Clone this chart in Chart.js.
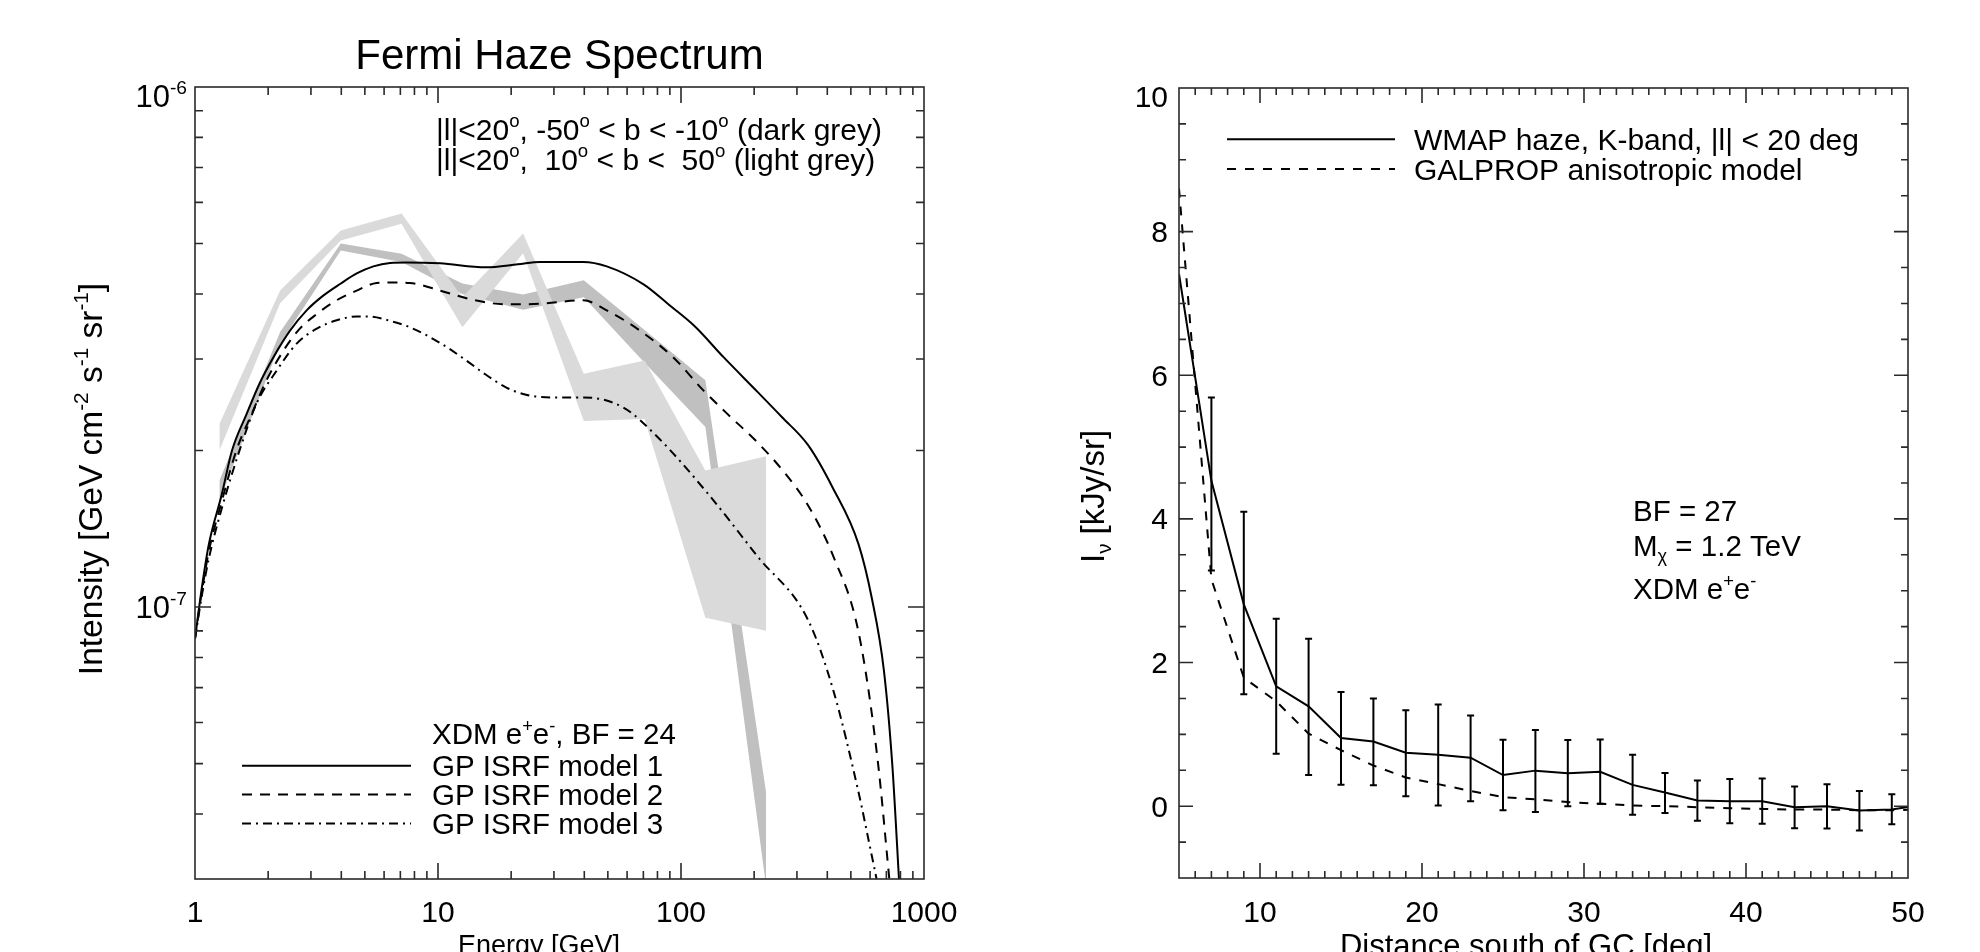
<!DOCTYPE html>
<html>
<head>
<meta charset="utf-8">
<title>Fermi haze spectrum / WMAP haze profile</title>
<script src="https://cdn.jsdelivr.net/npm/chart.js@4.4.1/dist/chart.umd.min.js"></script>
<style>
  html, body { margin: 0; padding: 0; background: #fff; }
  #wrap { position: relative; width: 1980px; height: 952px; overflow: hidden; }
  canvas { position: absolute; top: 0; }
  #left { left: 0; }
  #right { left: 990px; }
</style>
</head>
<body>
<div id="wrap">
  <canvas id="left" width="990" height="952"></canvas>
  <canvas id="right" width="990" height="952"></canvas>
</div>
<script>
const FONT = '"Liberation Sans", Arial, Helvetica, sans-serif';
const LIGHT = 'rgb(218,218,218)';
const DARK = 'rgb(192,192,192)';

// ---- left panel: Fermi haze spectrum (GeV, GeV cm^-2 s^-1 sr^-1) ----
const energyBins = [1.26, 2.24, 3.98, 7.08, 12.6, 22.4, 39.8, 70.8, 126, 224];
const southHigh = [1.75e-7, 3.38e-7, 5.0e-7, 4.78e-7, 4.19e-7, 3.99e-7, 4.25e-7, 3.41e-7, 2.73e-7, 4.4e-8];
const southLow = [1.6e-7, 3.21e-7, 4.85e-7, 4.61e-7, 4.0e-7, 3.73e-7, 3.94e-7, 2.95e-7, 2.22e-7, 2.9e-8];
const northHigh = [2.25e-7, 4.06e-7, 5.3e-7, 5.71e-7, 3.94e-7, 5.23e-7, 2.81e-7, 2.98e-7, 1.83e-7, 1.95e-7];
const northLow = [2.0e-7, 3.84e-7, 5.07e-7, 5.46e-7, 3.45e-7, 4.79e-7, 2.28e-7, 2.3e-7, 9.54e-8, 9.0e-8];

const model1E = [1.0, 1.07, 1.14, 1.29, 1.42, 1.63, 1.85, 2.10, 2.46, 2.88, 3.37, 3.95, 4.63, 5.42, 6.35, 7.43, 10.2, 15.7, 21.3, 26.3, 39.6, 49.5, 70.4, 90, 113.6, 150, 207, 260, 333, 420, 538, 610, 684, 740, 789];
const model1I = [8.7e-8, 1.1e-7, 1.32e-7, 1.65e-7, 2.0e-7, 2.35e-7, 2.70e-7, 3.02e-7, 3.40e-7, 3.72e-7, 3.97e-7, 4.18e-7, 4.38e-7, 4.52e-7, 4.59e-7, 4.60e-7, 4.58e-7, 4.5e-7, 4.56e-7, 4.61e-7, 4.61e-7, 4.52e-7, 4.17e-7, 3.8e-7, 3.47e-7, 3.02e-7, 2.59e-7, 2.32e-7, 2.05e-7, 1.7e-7, 1.32e-7, 1.04e-7, 7.55e-8, 5.0e-8, 3.0e-8];
const model2E = [1.0, 1.07, 1.14, 1.29, 1.48, 1.71, 1.97, 2.31, 2.70, 3.17, 3.83, 4.63, 5.59, 6.35, 7.67, 10.2, 14.2, 19.2, 26.3, 39.6, 49.5, 67.8, 93, 123.6, 154, 207, 265, 333, 424, 538, 644, 720];
const model2I = [8.7e-8, 1.08e-7, 1.28e-7, 1.6e-7, 2.0e-7, 2.35e-7, 2.73e-7, 3.11e-7, 3.43e-7, 3.66e-7, 3.89e-7, 4.06e-7, 4.2e-7, 4.21e-7, 4.2e-7, 4.06e-7, 3.89e-7, 3.82e-7, 3.83e-7, 3.89e-7, 3.72e-7, 3.40e-7, 3.02e-7, 2.61e-7, 2.36e-7, 2.07e-7, 1.82e-7, 1.57e-7, 1.25e-7, 8.94e-8, 5.1e-8, 3.0e-8];
const model3E = [1.0, 1.07, 1.14, 1.29, 1.53, 1.79, 2.17, 2.62, 3.17, 3.83, 4.63, 5.25, 6.35, 7.67, 10.2, 12.8, 15.7, 19.2, 23, 30, 39.6, 57.9, 79.5, 128, 207, 333, 424, 538, 600, 638];
const model3I = [8.7e-8, 1.06e-7, 1.24e-7, 1.55e-7, 2.01e-7, 2.46e-7, 2.85e-7, 3.21e-7, 3.43e-7, 3.56e-7, 3.62e-7, 3.62e-7, 3.55e-7, 3.45e-7, 3.22e-7, 3.0e-7, 2.8e-7, 2.64e-7, 2.56e-7, 2.53e-7, 2.53e-7, 2.42e-7, 2.13e-7, 1.66e-7, 1.25e-7, 9.45e-8, 6.9e-8, 4.4e-8, 3.45e-8, 3.0e-8];

const energyLabels = [1, 10, 100, 1000];
const intensityLabels = [1e-7, 1e-6];

// ---- right panel: WMAP haze vs distance south of GC (kJy/sr) ----
const distLine = [5, 7, 9, 11, 13, 15, 17, 19, 21, 23, 25, 27, 29, 31, 33, 35, 37, 39, 41, 43, 45, 47, 49, 50];
const wmapHaze = [7.41, 4.53, 2.81, 1.67, 1.39, 0.95, 0.90, 0.745, 0.717, 0.675, 0.434, 0.495, 0.458, 0.48, 0.297, 0.19, 0.08, 0.07, 0.07, -0.014, 0.0, -0.06, -0.047, -0.01];
const galprop = [8.6, 3.16, 1.79, 1.46, 1.01, 0.78, 0.566, 0.40, 0.307, 0.212, 0.127, 0.094, 0.057, 0.033, 0.01, 0.0, -0.014, -0.028, -0.038, -0.047, -0.047, -0.057, -0.057, -0.05];
const distErr = [7, 9, 11, 13, 15, 17, 19, 21, 23, 25, 27, 29, 31, 33, 35, 37, 39, 41, 43, 45, 47, 49];
const errHigh = [5.69, 4.10, 2.61, 2.33, 1.59, 1.5, 1.335, 1.415, 1.264, 0.925, 1.06, 0.92, 0.93, 0.717, 0.462, 0.358, 0.377, 0.387, 0.274, 0.307, 0.212, 0.165];
const errLow = [3.28, 1.56, 0.73, 0.434, 0.297, 0.29, 0.14, 0.01, 0.07, -0.057, -0.08, 0.0, 0.033, -0.118, -0.094, -0.203, -0.236, -0.245, -0.307, -0.311, -0.34, -0.25];

const distLabels = [10, 20, 30, 40, 50];
const fluxLabels = [0, 2, 4, 6, 8, 10];

const pts = (xs, ys) => xs.map((x, i) => ({ x: x, y: ys[i] }));

// text with super/subscripts: parts = [[text, 0|1|-1], ...]
function drawRich(ctx, parts, x, y, size, align) {
  let w = 0;
  parts.forEach(([t, k]) => {
    ctx.font = (k ? size * 0.62 : size) + 'px ' + FONT;
    w += ctx.measureText(t).width;
  });
  let cx = align === 'center' ? x - w / 2 : align === 'right' ? x - w : x;
  ctx.textAlign = 'left';
  ctx.textBaseline = 'alphabetic';
  parts.forEach(([t, k]) => {
    ctx.font = (k ? size * 0.62 : size) + 'px ' + FONT;
    const dy = k === 1 ? -size * 0.42 : k === -1 ? size * 0.22 : 0;
    ctx.fillText(t, cx, y + dy);
    cx += ctx.measureText(t).width;
  });
}

function logTicks(lo, hi) {
  const out = [];
  for (let e = Math.floor(Math.log10(lo)); e <= Math.ceil(Math.log10(hi)); e++) {
    for (let k = 1; k <= 9; k++) {
      const v = k * Math.pow(10, e);
      if (v > lo * 1.0001 && v < hi * 0.9999) out.push([v, k === 1]);
    }
  }
  return out;
}

function linTicks(lo, hi, minorStep, majorStep) {
  const out = [];
  const n = Math.round((hi - lo) / minorStep);
  for (let i = 1; i < n; i++) {
    const v = lo + i * minorStep;
    const r = v / majorStep;
    out.push([v, Math.abs(r - Math.round(r)) < 1e-6]);
  }
  return out;
}

// IDL-style box: inward ticks on all four sides, then the labels
function framePlugin(opt) {
  return {
    id: 'frame',
    afterDatasetsDraw(chart) {
      const ctx = chart.ctx, a = chart.chartArea;
      const sx = chart.scales.x, sy = chart.scales.y;
      ctx.save();
      ctx.strokeStyle = '#2a2a2a';
      ctx.lineWidth = 1.6;
      ctx.setLineDash([]);
      ctx.strokeRect(a.left, a.top, a.right - a.left, a.bottom - a.top);
      ctx.beginPath();
      opt.xTicks.forEach(([v, major]) => {
        const p = sx.getPixelForValue(v);
        const L = major ? opt.xMajor : opt.xMinor;
        ctx.moveTo(p, a.bottom); ctx.lineTo(p, a.bottom - L);
        ctx.moveTo(p, a.top); ctx.lineTo(p, a.top + L);
      });
      opt.yTicks.forEach(([v, major]) => {
        const p = sy.getPixelForValue(v);
        const L = major ? opt.yMajor : opt.yMinor;
        ctx.moveTo(a.left, p); ctx.lineTo(a.left + L, p);
        ctx.moveTo(a.right, p); ctx.lineTo(a.right - L, p);
      });
      ctx.stroke();
      ctx.fillStyle = '#000';
      opt.draw(chart, ctx, sx, sy, a);
      ctx.restore();
    }
  };
}

function legendLine(ctx, x0, x1, y, dash) {
  ctx.save();
  ctx.strokeStyle = '#000';
  ctx.lineWidth = 2;
  ctx.setLineDash(dash);
  ctx.beginPath();
  ctx.moveTo(x0, y);
  ctx.lineTo(x1, y);
  ctx.stroke();
  ctx.restore();
}

const baseOptions = (padding, xScale, yScale) => ({
  responsive: false,
  animation: false,
  events: [],
  layout: { padding: padding },
  elements: { point: { radius: 0 }, line: { tension: 0 } },
  plugins: { legend: { display: false }, title: { display: false }, tooltip: { enabled: false } },
  scales: { x: xScale, y: yScale }
});

// ---------------- left chart ----------------
new Chart(document.getElementById('left'), {
  type: 'line',
  data: {
    datasets: [
      { label: 'GP ISRF model 1', data: pts(model1E, model1I), borderColor: '#000', borderWidth: 2, cubicInterpolationMode: 'monotone', fill: false },
      { label: 'GP ISRF model 2', data: pts(model2E, model2I), borderColor: '#000', borderWidth: 2, borderDash: [10, 8], cubicInterpolationMode: 'monotone', fill: false },
      { label: 'GP ISRF model 3', data: pts(model3E, model3I), borderColor: '#000', borderWidth: 2, borderDash: [9, 5, 2, 5], cubicInterpolationMode: 'monotone', fill: false },
      { label: 'north high', data: pts(energyBins, northHigh), borderColor: 'rgba(0,0,0,0)', borderWidth: 1, fill: false },
      { label: 'north low', data: pts(energyBins, northLow), borderColor: 'rgba(0,0,0,0)', borderWidth: 1, backgroundColor: LIGHT, fill: '-1' },
      { label: 'south high', data: pts(energyBins, southHigh), borderColor: 'rgba(0,0,0,0)', borderWidth: 1, fill: false },
      { label: 'south low', data: pts(energyBins, southLow), borderColor: 'rgba(0,0,0,0)', borderWidth: 1, backgroundColor: DARK, fill: '-1' }
    ]
  },
  options: baseOptions(
    { left: 195, top: 87, right: 66, bottom: 73 },
    { type: 'logarithmic', min: 1, max: 1000, bounds: 'data', display: false },
    { type: 'logarithmic', min: 3e-8, max: 1e-6, bounds: 'data', display: false }
  ),
  plugins: [framePlugin({
    xTicks: logTicks(1, 1000), yTicks: logTicks(3e-8, 1e-6),
    xMajor: 16, xMinor: 8, yMajor: 16, yMinor: 8,
    draw(chart, ctx, sx, sy, a) {
      // title
      ctx.font = '42px ' + FONT;
      ctx.textAlign = 'center';
      ctx.textBaseline = 'alphabetic';
      ctx.fillText('Fermi Haze Spectrum', (a.left + a.right) / 2, 69);
      // x tick labels
      ctx.font = '30px ' + FONT;
      energyLabels.forEach(v => ctx.fillText(String(v), sx.getPixelForValue(v), 922));
      // y tick labels 10^-n (top one sits lower, as in the original)
      intensityLabels.forEach(v => {
        const p = sy.getPixelForValue(v);
        const top = Math.abs(p - a.top) < 1;
        drawRich(ctx, [['10', 0], [String(Math.round(Math.log10(v))), 1]], 187, p + (top ? 20 : 11), 31, 'right');
      });
      // axis titles
      drawRich(ctx, [['Energy [GeV]', 0]], 539, 953.5, 27, 'center');
      ctx.save();
      ctx.translate(102, 479);
      ctx.rotate(-Math.PI / 2);
      drawRich(ctx, [['Intensity [GeV cm', 0], ['-2', 1], [' s', 0], ['-1', 1], [' sr', 0], ['-1', 1], [']', 0]], 0, 0, 33.5, 'center');
      ctx.restore();
      // region note
      drawRich(ctx, [['|l|<20', 0], ['o', 1], [', -50', 0], ['o', 1], [' < b < -10', 0], ['o', 1], [' (dark grey)', 0]], 436, 139.5, 30, 'left');
      drawRich(ctx, [['|l|<20', 0], ['o', 1], [',  10', 0], ['o', 1], [' < b <  50', 0], ['o', 1], [' (light grey)', 0]], 436, 169.5, 30, 'left');
      // legend
      drawRich(ctx, [['XDM e', 0], ['+', 1], ['e', 0], ['-', 1], [', BF = 24', 0]], 432, 744, 29.5, 'left');
      const rows = [[765.8, [], 'GP ISRF model 1'], [794.6, [10, 8], 'GP ISRF model 2'], [823.4, [9, 5, 2, 5], 'GP ISRF model 3']];
      rows.forEach(([y, dash, txt]) => {
        legendLine(ctx, 242, 411, y, dash);
        drawRich(ctx, [[txt, 0]], 432, y + 10.5, 29.5, 'left');
      });
    }
  })]
});

// ---------------- right chart ----------------
const errorBars = {
  id: 'errorBars',
  afterDatasetsDraw(chart) {
    const ctx = chart.ctx, sx = chart.scales.x, sy = chart.scales.y;
    ctx.save();
    ctx.strokeStyle = '#000';
    ctx.lineWidth = 2;
    ctx.beginPath();
    distErr.forEach((d, i) => {
      const x = sx.getPixelForValue(d);
      const y0 = sy.getPixelForValue(errHigh[i]);
      const y1 = sy.getPixelForValue(errLow[i]);
      ctx.moveTo(x, y0); ctx.lineTo(x, y1);
      ctx.moveTo(x - 3.5, y0); ctx.lineTo(x + 3.5, y0);
      ctx.moveTo(x - 3.5, y1); ctx.lineTo(x + 3.5, y1);
    });
    ctx.stroke();
    ctx.restore();
  }
};

new Chart(document.getElementById('right'), {
  type: 'line',
  data: {
    datasets: [
      { label: 'WMAP haze, K-band, |l| < 20 deg', data: pts(distLine, wmapHaze), borderColor: '#000', borderWidth: 2, fill: false },
      { label: 'GALPROP anisotropic model', data: pts(distLine, galprop), borderColor: '#000', borderWidth: 2, borderDash: [9, 9], fill: false }
    ]
  },
  options: baseOptions(
    { left: 189, top: 88, right: 72, bottom: 74 },
    { type: 'linear', min: 5, max: 50, bounds: 'data', display: false },
    { type: 'linear', min: -1, max: 10, bounds: 'data', display: false }
  ),
  plugins: [errorBars, framePlugin({
    xTicks: linTicks(5, 50, 1, 10), yTicks: linTicks(-1, 10, 0.5, 2),
    xMajor: 15, xMinor: 7, yMajor: 14, yMinor: 7,
    draw(chart, ctx, sx, sy, a) {
      const ox = 990;
      ctx.font = '30px ' + FONT;
      ctx.textAlign = 'center';
      ctx.textBaseline = 'alphabetic';
      distLabels.forEach(v => ctx.fillText(String(v), sx.getPixelForValue(v), 922));
      ctx.textAlign = 'right';
      fluxLabels.forEach(v => {
        const p = sy.getPixelForValue(v);
        const top = Math.abs(p - a.top) < 1;
        ctx.fillText(String(v), 1168 - ox, p + (top ? 18.5 : 10.5));
      });
      // axis titles
      drawRich(ctx, [['Distance south of GC [deg]', 0]], 1526 - ox, 956, 31, 'center');
      ctx.save();
      ctx.translate(1104 - ox, 563);
      ctx.rotate(-Math.PI / 2);
      drawRich(ctx, [['I', 0], ['\u03bd', -1], [' [kJy/sr]', 0]], 0, 0, 33, 'left');
      ctx.restore();
      // legend
      legendLine(ctx, 1227 - ox, 1395 - ox, 139.3, []);
      drawRich(ctx, [['WMAP haze, K-band, |l| < 20 deg', 0]], 1414 - ox, 149.8, 30, 'left');
      legendLine(ctx, 1227 - ox, 1395 - ox, 169, [9, 9]);
      drawRich(ctx, [['GALPROP anisotropic model', 0]], 1414 - ox, 179.5, 30, 'left');
      // model note
      drawRich(ctx, [['BF = 27', 0]], 1633 - ox, 520.5, 29.5, 'left');
      drawRich(ctx, [['M', 0], ['\u03c7', -1], [' = 1.2 TeV', 0]], 1633 - ox, 556, 29.5, 'left');
      drawRich(ctx, [['XDM e', 0], ['+', 1], ['e', 0], ['-', 1]], 1633 - ox, 599, 29.5, 'left');
    }
  })]
});
</script>
</body>
</html>
